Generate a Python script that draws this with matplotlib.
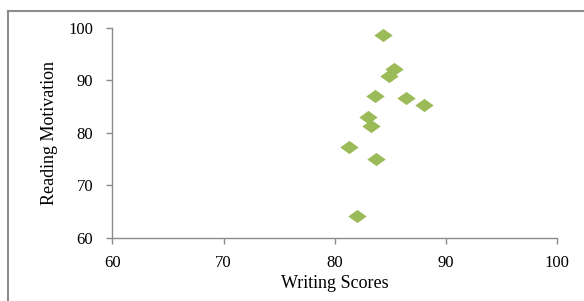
import matplotlib
matplotlib.use('Agg')
import matplotlib.pyplot as plt
from matplotlib.lines import Line2D

plt.rcParams['font.family'] = ['Liberation Serif', 'DejaVu Serif']

# scores
writing = [84.3, 85.3, 84.9, 83.6, 86.4, 88.0, 83.0, 83.3, 81.3, 83.7, 82.0]
reading = [98.7, 92.1, 90.9, 87.0, 86.7, 85.4, 83.0, 81.3, 77.3, 75.0, 64.1]

xticks = [60, 70, 80, 90, 100]
yticks = [60, 70, 80, 90, 100]

fig = plt.figure(figsize=(5.84, 3.01), dpi=100)
ax = fig.add_axes([0.1926, 0.2093, 0.7612, 0.6977])

# wide diamond
diamond = [(-1, 0), (0, 0.72), (1, 0), (0, -0.72), (-1, 0)]
ax.scatter(writing, reading, marker=diamond, s=175, color='#9BBB59', linewidths=0)

ax.set_xlim(60, 100)
ax.set_ylim(60, 100)
ax.set_xticks(xticks)
ax.set_yticks(yticks)

for side in ['top', 'right']:
    ax.spines[side].set_visible(False)
for side in ['left', 'bottom']:
    ax.spines[side].set_color('#8c8c8c')
    ax.spines[side].set_linewidth(1.0)

ax.tick_params(axis='both', direction='out', length=4, width=1.0, color='#8c8c8c',
               labelsize=12, pad=8)
ax.tick_params(axis='y', pad=10)

ax.set_xlabel('Writing Scores', fontsize=13, labelpad=3)
ax.set_ylabel('Reading Motivation', fontsize=13, labelpad=7)

# frame around the chart area (runs off the right and bottom edge)
x0 = 8 / 584
y0 = 1 - 11 / 301
fig.add_artist(Line2D([x0, x0], [-0.1, y0], transform=fig.transFigure,
                      color='#8c8c8c', linewidth=1.5))
fig.add_artist(Line2D([x0, 1.1], [y0, y0], transform=fig.transFigure,
                      color='#8c8c8c', linewidth=1.5))

fig.savefig('out.png', dpi=100)
